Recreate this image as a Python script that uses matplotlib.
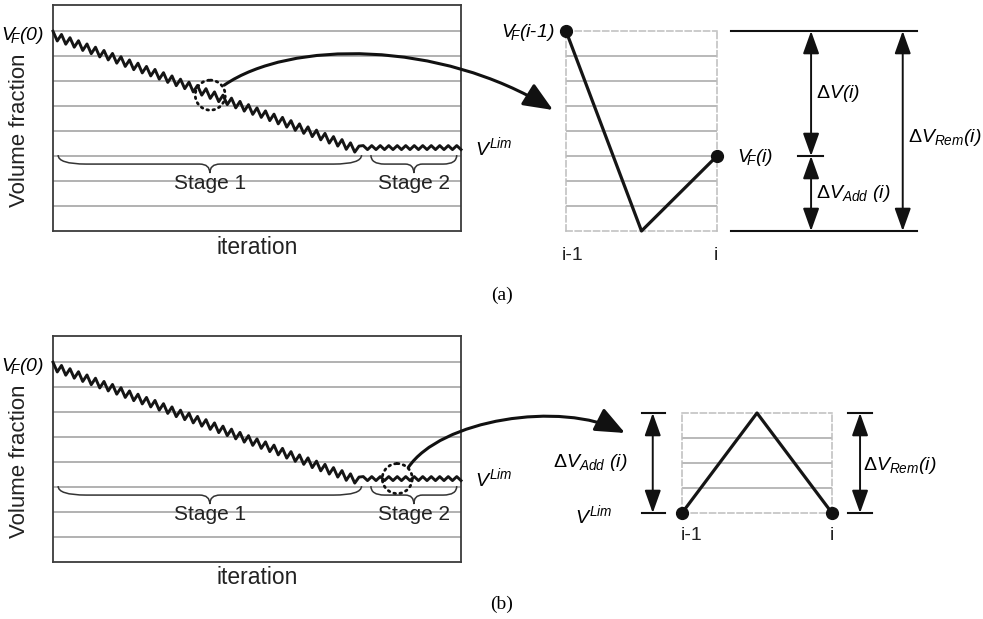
import matplotlib
matplotlib.use('Agg')
import matplotlib.pyplot as plt
from matplotlib.path import Path
from matplotlib.patches import FancyArrowPatch, Circle, PathPatch

plt.rcParams['font.family'] = ['Liberation Sans', 'DejaVu Sans']
plt.rcParams['mathtext.fontset'] = 'custom'
plt.rcParams['mathtext.rm'] = 'Liberation Sans:italic'
plt.rcParams['mathtext.it'] = 'Liberation Sans:italic'
plt.rcParams['mathtext.sf'] = 'Liberation Sans:italic'
plt.rcParams['mathtext.bf'] = 'Liberation Sans:bold'

W, H = 983, 619

# ---------------- data ----------------
# volume fraction after each iteration (i = 0 .. 48); stage 1 = 0..36, stage 2 = 37..48
vf_at_iter = [8.00, 7.87, 7.74, 7.62, 7.49, 7.36, 7.23, 7.11, 6.98, 6.85,
              6.72, 6.59, 6.47, 6.34, 6.21, 6.08, 5.96, 5.83, 5.70, 5.57,
              5.44, 5.32, 5.19, 5.06, 4.93, 4.81, 4.68, 4.55, 4.42, 4.29,
              4.17, 4.04, 3.91, 3.78, 3.66, 3.53, 3.40,
              3.26, 3.26, 3.26, 3.26, 3.26, 3.26, 3.26, 3.26, 3.26, 3.26,
              3.26, 3.26]
# extreme value reached inside each iteration (between i-1 and i), i = 1 .. 48
vf_within = [7.61, 7.48, 7.36, 7.23, 7.10, 6.97, 6.85, 6.72, 6.59, 6.46,
             6.33, 6.21, 6.08, 5.95, 5.82, 5.70, 5.57, 5.44, 5.31, 5.18,
             5.06, 4.93, 4.80, 4.67, 4.55, 4.42, 4.29, 4.16, 4.03, 3.91,
             3.78, 3.65, 3.52, 3.40, 3.27, 3.16,
             3.42, 3.42, 3.42, 3.42, 3.42, 3.42, 3.42, 3.42, 3.42, 3.42,
             3.42, 3.42]
stage1_end = 36
n_iter = 48
grid_levels = [1, 2, 3, 4, 5, 6, 7, 8]
highlight_a = 19   # iteration zoomed in (a): between 18 and 19
highlight_b = 41   # iteration zoomed in (b): between 40 and 41

zoom_pos = [0, 0.5, 1]          # i-1, inside, i
zoom_a_vf = [8, 0, 3]           # V_F(i-1), minimum, V_F(i)
zoom_a_levels = [1, 2, 3, 4, 5, 6, 7]
zoom_b_vf = [0, 4, 0]           # V_Lim, maximum, V_Lim
zoom_b_levels = [1, 2, 3]

# ---------------- helpers ----------------
def rect(x0, y0, x1, y1):
    return [x0 / W, 1 - y1 / H, (x1 - x0) / W, (y1 - y0) / H]


fig = plt.figure(figsize=(W / 100, H / 100), dpi=100)
fig.patch.set_facecolor('white')


def brace(ax, x0, x1, ytop, ytip, r_end, r_mid):
    ym = (ytop + ytip) / 2
    xc = (x0 + x1) / 2
    verts = [(x0, ytop), (x0, ym), (x0 + r_end, ym),
             (xc - r_mid, ym),
             (xc, ym), (xc, ytip),
             (xc, ym), (xc + r_mid, ym),
             (x1 - r_end, ym),
             (x1, ym), (x1, ytop)]
    codes = [Path.MOVETO, Path.CURVE3, Path.CURVE3,
             Path.LINETO,
             Path.CURVE3, Path.CURVE3,
             Path.CURVE3, Path.CURVE3,
             Path.LINETO,
             Path.CURVE3, Path.CURVE3]
    ax.add_patch(PathPatch(Path(verts, codes), fill=False, lw=1.1,
                           ec='#333333', clip_on=False))


def main_panel(top):
    ax = fig.add_axes(rect(53, top, 461, top + 226))
    ax.set_xlim(0, n_iter)
    ax.set_ylim(0, 9.05)
    ax.set_yticks(grid_levels)
    ax.set_xticks([])
    ax.tick_params(length=0, labelleft=False)
    ax.yaxis.grid(True, color='#ababab', lw=1.3)
    ax.set_axisbelow(True)
    for s in ax.spines.values():
        s.set_color('#3c3c3c')
        s.set_linewidth(1.3)
    xs = [0]
    ys = [vf_at_iter[0]]
    for i in range(1, len(vf_at_iter)):
        xs += [i - 0.5, i]
        ys += [vf_within[i - 1], vf_at_iter[i]]
    ax.plot(xs, ys, color='#151515', lw=2.1, clip_on=False, zorder=3)
    s1 = (0.6, stage1_end + 0.3)
    s2 = (stage1_end + 1.4, n_iter - 0.5)
    brace(ax, s1[0], s1[1], 3.04, 2.32, 3.3, 1.2)
    brace(ax, s2[0], s2[1], 3.04, 2.32, 1.6, 1.0)
    ax.text(sum(s1) / 2, 1.92, 'Stage 1', ha='center',
            va='center', fontsize=15, color='#222222')
    ax.text(sum(s2) / 2, 1.92, 'Stage 2',
            ha='center', va='center', fontsize=15, color='#222222')
    return ax


def zoom_panel(box, levels, vf):
    ax = fig.add_axes(rect(*box))
    ax.set_xlim(0, 1)
    ax.set_ylim(0, len(levels) + 1)
    ax.set_yticks(levels)
    ax.set_xticks([])
    ax.tick_params(length=0, labelleft=False)
    ax.yaxis.grid(True, color='#b3b3b3', lw=1.3)
    ax.set_axisbelow(True)
    for s in ax.spines.values():
        s.set_color('#bdbdbd')
        s.set_linewidth(1.1)
        s.set_linestyle((0, (4, 2)))
    ax.patch.set_alpha(0)
    ax.plot(zoom_pos, vf, color='#151515', lw=2.3, clip_on=False, zorder=3)
    ax.plot([zoom_pos[0], zoom_pos[-1]], [vf[0], vf[-1]], 'o', color='#111111',
            ms=8.5, clip_on=False, zorder=4)
    return ax


def dim_arrow(ax, x, y0, y1):
    ax.annotate('', xy=(x, y1), xytext=(x, y0), annotation_clip=False,
                arrowprops=dict(arrowstyle='<|-|>,head_length=0.7,head_width=0.25',
                                mutation_scale=20, lw=1.4, color='#111111',
                                shrinkA=0, shrinkB=0))


def hline(ax, x0, x1, y):
    ax.plot([x0, x1], [y, y], color='#111111', lw=1.5, clip_on=False)


# ---------------- panels ----------------
ax_a = main_panel(5)
ax_b = main_panel(336)

za = zoom_panel((566, 31, 717, 231), zoom_a_levels, zoom_a_vf)
zb = zoom_panel((682, 413, 832, 513), zoom_b_levels, zoom_b_vf)

# dimension lines (a)
hline(za, 1.091, 2.326, zoom_a_vf[0])
hline(za, 1.091, 2.326, zoom_a_vf[1])
hline(za, 1.536, 1.702, zoom_a_vf[2])
dim_arrow(za, 1.623, zoom_a_vf[0], zoom_a_vf[2])
dim_arrow(za, 1.623, zoom_a_vf[1], zoom_a_vf[2])
dim_arrow(za, 2.230, zoom_a_vf[0], zoom_a_vf[1])

# dimension lines (b)
hline(zb, -0.267, -0.113, zoom_b_vf[0])
hline(zb, -0.267, -0.113, zoom_b_vf[1])
hline(zb, 1.109, 1.265, zoom_b_vf[2])
hline(zb, 1.109, 1.265, zoom_b_vf[1])
dim_arrow(zb, -0.195, zoom_b_vf[0], zoom_b_vf[1])
dim_arrow(zb, 1.187, zoom_b_vf[2], zoom_b_vf[1])

# ---------------- overlay (pixel coordinates) ----------------
ov = fig.add_axes([0, 0, 1, 1])
ov.set_xlim(0, W)
ov.set_ylim(H, 0)
ov.axis('off')
ov.patch.set_alpha(0)


def to_px(ax, x, y):
    d = ax.transData.transform((x, y))
    return ov.transData.inverted().transform(d)


def centre(ax, i):
    return to_px(ax, i - 0.5, (vf_within[i - 1] + vf_at_iter[i]) / 2)


ca = centre(ax_a, highlight_a)
cb = centre(ax_b, highlight_b)

for c in (ca, cb):
    circ = Circle((c[0], c[1]), 15, fill=False, ec='#111111', lw=2.0,
                  linestyle=(0, (0.6, 1.6)))
    circ.set_capstyle('round')
    ov.add_patch(circ)

# curved arrows
pa = Path([(ca[0] + 14, ca[1] - 10), (290, 40), (440, 40), (553, 110)],
          [Path.MOVETO, Path.CURVE4, Path.CURVE4, Path.CURVE4])
pb = Path([(cb[0] + 11, cb[1] - 11), (440, 420), (560, 400), (625, 433)],
          [Path.MOVETO, Path.CURVE4, Path.CURVE4, Path.CURVE4])
for p in (pa, pb):
    ov.add_patch(FancyArrowPatch(path=p,
                                 arrowstyle='-|>,head_length=0.9,head_width=0.38',
                                 mutation_scale=20, lw=2.2, color='#111111'))

fs = 14
VF = r'$V_{\!\!F}$'
for dy in (0, 331):
    ov.text(44, 40 + dy, VF + r'$(0)$', ha='right', va='baseline', fontsize=fs)
    ov.text(20, 130 + dy, 'Volume fraction', rotation=90, ha='center',
            va='center', fontsize=16, color='#222222')
    ov.text(257, 247 + dy, 'iteration', ha='center', va='center',
            fontsize=16.5, color='#222222')
    ov.text(475, 155 + dy, r'$V^{Lim}$', ha='left', va='baseline', fontsize=fs)

# labels (a) zoom
ov.text(555, 37, VF + r'$(i$-$1)$', ha='right', va='baseline', fontsize=fs)
ov.text(737, 162, VF + r'$(i)$', ha='left', va='baseline', fontsize=fs)
ov.text(573, 255, 'i-1', ha='center', va='center', fontsize=fs, color='#222222')
ov.text(716, 255, 'i', ha='center', va='center', fontsize=fs, color='#222222')
ov.text(816, 98, r'Δ$V(i)$', ha='left', va='baseline', fontsize=fs)
ov.text(816, 198, r'Δ$V_{Add}\ (i)$', ha='left', va='baseline', fontsize=fs)
ov.text(908, 142, r'Δ$V_{Rem}(i)$', ha='left', va='baseline', fontsize=fs)
ov.text(502, 295, '(a)', ha='center', va='center', fontsize=14,
        family='Liberation Serif')

# labels (b) zoom
ov.text(627, 467, r'Δ$V_{Add}\ (i)$', ha='right', va='baseline', fontsize=fs)
ov.text(575, 523, r'$V^{Lim}$', ha='left', va='baseline', fontsize=fs)
ov.text(863, 470, r'Δ$V_{Rem}(i)$', ha='left', va='baseline', fontsize=fs)
ov.text(692, 535, 'i-1', ha='center', va='center', fontsize=fs, color='#222222')
ov.text(832, 535, 'i', ha='center', va='center', fontsize=fs, color='#222222')
ov.text(502, 604, '(b)', ha='center', va='center', fontsize=14,
        family='Liberation Serif')

fig.savefig('out.png', dpi=100, facecolor='white')
